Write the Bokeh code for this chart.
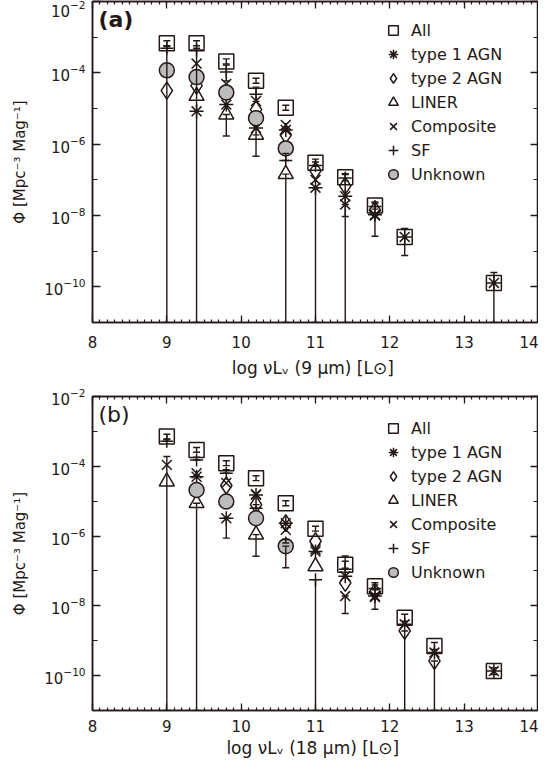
import numpy as np
from bokeh.plotting import figure
from bokeh.models import (ColumnDataSource, Whisker, TeeHead, FixedTicker, LogAxis,
                          LinearAxis, Legend, LegendItem, Label, Range1d,
                          CustomJSTickFormatter)
from bokeh.layouts import column
from bokeh.embed import file_html
from bokeh.resources import INLINE

INK = "#231815"
GRAY = "#bcbcbc"
FONT = "DejaVu Sans"

CLASSES = ["All", "type 1 AGN", "type 2 AGN", "LINER", "Composite", "SF", "Unknown"]

# ---------------- panel (a): 9 micron, log10(phi) values ----------------
A_ALL_X = [9.0, 9.4, 9.8, 10.2, 10.6, 11.0, 11.4, 11.8, 12.2, 13.4]
A_ALL_Y = [-3.17, -3.17, -3.68, -4.22, -4.98, -6.52, -6.93, -7.72, -8.60, -9.89]
A_ALL_LO = [0.07, 0.07, 0.07, 0.07, 0.07, 0.10, 0.10, 0.10, 0.52, 9.0]
A_ALL_HI = [0.07, 0.07, 0.07, 0.07, 0.07, 0.10, 0.10, 0.10, 0.24, 0.29]

A_T1_X = [9.4, 9.8, 10.2, 10.6, 11.0, 11.4, 11.8, 12.2, 13.4]
A_T1_Y = [-5.08, -4.89, -5.55, -5.60, -7.22, -7.46, -7.98, -8.60, -9.89]
A_T1_LO = [0, 0, 0, 0, 9.0, 0, 0.60, 0, 0]
A_T1_HI = [0, 0, 0, 0, 0, 0, 0, 0, 0]

A_T2_X = [9.0, 9.4, 9.8, 10.2, 10.6, 11.0, 11.4, 11.8]
A_T2_Y = [-4.50, -4.36, -4.55, -5.03, -5.74, -6.74, -7.17, -7.85]

A_LI_X = [9.4, 9.8, 10.2, 10.6]
A_LI_Y = [-4.65, -5.17, -5.74, -6.84]
A_LI_LO = [0, 0.60, 0.60, 9.0]
A_LI_HI = [0, 0, 0, 0]

A_CO_X = [9.0, 9.4, 9.8, 10.2, 10.6, 11.0, 11.4, 11.8]
A_CO_Y = [-3.93, -3.74, -4.31, -4.79, -5.46, -7.00, -7.69, -8.00]
A_CO_LO = [0, 0, 0, 0, 0, 0, 9.0, 0]
A_CO_HI = [0, 0, 0, 0, 0, 0, 0, 0]

A_SF_X = [9.0, 9.4, 9.8, 10.2, 10.6, 11.0, 11.4, 11.8]
A_SF_Y = [-3.31, -3.36, -3.98, -4.60, -6.46, -6.60, -6.95, -7.75]
A_SF_LO = [9.0, 9.0, 0.25, 0.20, 0, 0, 1.08, 0]
A_SF_HI = [0.05, 0.05, 0.20, 0.20, 0.20, 0.10, 0.10, 0.10]

A_UN_X = [9.0, 9.4, 9.8, 10.2, 10.6]
A_UN_Y = [-3.93, -4.12, -4.55, -5.27, -6.12]

# ---------------- panel (b): 18 micron ----------------
B_ALL_X = [9.0, 9.4, 9.8, 10.2, 10.6, 11.0, 11.4, 11.8, 12.2, 12.6, 13.4]
B_ALL_Y = [-3.15, -3.53, -3.91, -4.34, -5.06, -5.79, -6.82, -7.44, -8.34, -9.15, -9.87]
B_ALL_LO = [0.07, 0.07, 0.07, 0.07, 0.07, 0.07, 0.10, 0.10, 0.10, 0.10, 0.10]
B_ALL_HI = [0.07, 0.07, 0.07, 0.07, 0.07, 0.07, 0.10, 0.10, 0.10, 0.10, 0.10]

B_T1_X = [9.4, 9.8, 10.2, 10.6, 11.0, 11.4, 11.8, 12.2, 12.6, 13.4]
B_T1_Y = [-4.30, -5.49, -4.82, -5.63, -6.44, -7.15, -7.72, -8.53, -9.34, -9.87]
B_T1_LO = [0, 0.57, 0, 0, 0, 0, 0.38, 0, 0, 0]
B_T1_HI = [0, 0, 0, 0, 0, 0, 0, 0, 0, 0]

B_T2_X = [9.8, 10.2, 10.6, 11.0, 11.4, 11.8, 12.2, 12.6]
B_T2_Y = [-4.55, -5.10, -5.63, -6.15, -7.34, -7.60, -8.72, -9.58]
B_T2_LO = [0, 0, 0, 0, 0, 0, 9.0, 9.0]
B_T2_HI = [0, 0, 0, 0, 0, 0, 0, 0]

B_LI_X = [9.0, 9.4, 10.2, 11.0]
B_LI_Y = [-4.44, -5.06, -5.96, -6.87]
B_LI_LO = [0, 9.0, 0.62, 0]
B_LI_HI = [0, 0, 0, 0]

B_CO_X = [9.0, 9.4, 9.8, 10.2, 10.6, 11.0, 11.4, 11.8]
B_CO_Y = [-3.96, -4.20, -4.48, -4.80, -5.82, -6.38, -7.72, -7.75]
B_CO_LO = [9.0, 0, 0, 0, 0, 0, 0.50, 0]
B_CO_HI = [0.24, 0, 0, 0, 0, 0, 0, 0]

B_SF_X = [9.0, 9.4, 9.8, 10.2, 10.6, 11.0, 11.4, 11.8]
B_SF_Y = [-3.28, -3.82, -4.20, -5.20, -6.20, -7.25, -6.95, -7.50]
B_SF_LO = [0, 0, 0, 0, 0, 9.0, 0, 0]
B_SF_HI = [0.05, 0.08, 0.10, 0.10, 0.10, 0, 0.38, 0.10]

B_UN_X = [9.4, 9.8, 10.2, 10.6]
B_UN_Y = [-4.68, -5.01, -5.49, -6.29]
B_UN_LO = [0, 0, 0, 0.62]
B_UN_HI = [0, 0, 0, 0]

X_TICKS = [8, 9, 10, 11, 12, 13, 14]
Y_TICK_EXP = [-10, -8, -6, -4, -2]
Y_MINOR_EXP = [-11, -9, -7, -5, -3]

STYLE = {
    "All": dict(marker="square", size=15, fill_color=None),
    "type 1 AGN": dict(marker="asterisk", size=14, fill_color=None),
    "type 2 AGN": dict(marker="diamond", size=17, fill_color=None),
    "LINER": dict(marker="triangle", size=15, fill_color=None),
    "Composite": dict(marker="x", size=14, fill_color=None),
    "SF": dict(marker="cross", size=13, fill_color=None),
    "Unknown": dict(marker="circle", size=15, fill_color=GRAY),
}

Y_LO, Y_HI = -11, -2


def add_err(p, xs, ys, lo, hi):
    bx, bl, bu = [], [], []
    for x, y, l, h in zip(xs, ys, lo, hi):
        if l or h:
            bx.append(x)
            bl.append(10 ** max(y - l, Y_LO))
            bu.append(10 ** (y + h))
    if not bx:
        return
    src = ColumnDataSource(dict(base=bx, lower=bl, upper=bu))
    w = Whisker(source=src, base="base", lower="lower", upper="upper",
                dimension="height", line_color=INK, line_width=1.4, level="glyph",
                upper_head=TeeHead(size=7, line_color=INK, line_width=1.4),
                lower_head=TeeHead(size=7, line_color=INK, line_width=1.4))
    p.add_layout(w)


def make_panel(series, errors, xlabel, tag, tag_bold, height, border_top,
               border_bottom, legend_loc, tick_standoff, label_standoff):
    p = figure(width=538, height=height, x_range=Range1d(8, 14),
               y_range=Range1d(10.0 ** Y_LO, 10.0 ** Y_HI), y_axis_type="log",
               output_backend="svg", toolbar_location=None,
               min_border_left=92, min_border_right=0,
               min_border_top=border_top, min_border_bottom=border_bottom)
    p.xgrid.visible = False
    p.ygrid.visible = False
    p.outline_line_color = INK
    p.outline_line_width = 1.5
    p.background_fill_color = "white"
    p.border_fill_color = "white"

    xminor = [round(v, 1) for v in np.arange(8.1, 14.0, 0.1)]
    xt = FixedTicker(ticks=X_TICKS, minor_ticks=xminor)
    yt = FixedTicker(ticks=[10.0 ** e for e in Y_TICK_EXP],
                     minor_ticks=[10.0 ** e for e in Y_MINOR_EXP])

    def style_axis(ax, labels=True):
        ax.axis_line_color = INK
        ax.axis_line_width = 1.5
        ax.major_tick_line_color = INK
        ax.minor_tick_line_color = INK
        ax.major_tick_line_width = 1.3
        ax.minor_tick_line_width = 1.2
        ax.major_tick_out = 0
        ax.minor_tick_out = 0
        ax.major_label_text_font = FONT
        ax.major_label_text_font_size = "15px"
        ax.major_label_text_color = INK
        ax.axis_label_text_font = FONT
        ax.axis_label_text_font_style = "normal"
        ax.axis_label_text_font_size = "15px"
        ax.axis_label_text_color = INK
        if not labels:
            ax.formatter = CustomJSTickFormatter(code="return ''")
            ax.major_label_standoff = 0
            ax.major_label_text_font_size = "0px"

    xa = p.xaxis[0]
    xa.ticker = xt
    style_axis(xa)
    xa.major_tick_in = 7
    xa.minor_tick_in = 3
    xa.major_label_standoff = tick_standoff
    xa.axis_label = xlabel
    xa.axis_label_standoff = label_standoff
    xa.axis_label_text_font_size = "17px"

    ya = p.yaxis[0]
    ya.ticker = yt
    style_axis(ya)
    ya.major_tick_in = 8
    ya.minor_tick_in = 5
    ya.major_label_standoff = 7
    ya.axis_label = "Φ [Mpc⁻³ Mag⁻¹]"
    ya.axis_label_standoff = 12

    top = LinearAxis(ticker=xt)
    style_axis(top, labels=False)
    top.major_tick_in = 7
    top.minor_tick_in = 3
    p.add_layout(top, "above")

    right = LogAxis(ticker=yt)
    style_axis(right, labels=False)
    right.major_tick_in = 8
    right.minor_tick_in = 5
    p.add_layout(right, "right")

    items = []
    for name in CLASSES:
        xs, ys = series[name]
        st = STYLE[name]
        src = ColumnDataSource(dict(x=xs, y=[10.0 ** v for v in ys]))
        r = p.scatter("x", "y", source=src, marker=st["marker"], size=st["size"],
                      line_color=INK, line_width=1.5, fill_color=st["fill_color"])
        items.append(LegendItem(label=name, renderers=[r]))

    for name in CLASSES:
        if name in errors:
            xs, ys = series[name]
            lo, hi = errors[name]
            add_err(p, xs, ys, lo, hi)

    leg = Legend(items=items, location=legend_loc, margin=0, padding=3,
                 glyph_width=24, glyph_height=24, spacing=0, label_standoff=6,
                 label_height=20,
                 label_text_font=FONT, label_text_font_size="16px",
                 label_text_color=INK, border_line_alpha=0,
                 background_fill_alpha=0)
    p.add_layout(leg)

    p.add_layout(Label(x=8.08, y=10.0 ** -2.15, text=tag, text_font=FONT,
                       text_font_size="22px", text_color=INK, text_baseline="top",
                       text_font_style="bold" if tag_bold else "normal"))
    return p


series_a = {
    "All": (A_ALL_X, A_ALL_Y), "type 1 AGN": (A_T1_X, A_T1_Y),
    "type 2 AGN": (A_T2_X, A_T2_Y), "LINER": (A_LI_X, A_LI_Y),
    "Composite": (A_CO_X, A_CO_Y), "SF": (A_SF_X, A_SF_Y), "Unknown": (A_UN_X, A_UN_Y),
}
errors_a = {
    "All": (A_ALL_LO, A_ALL_HI), "type 1 AGN": (A_T1_LO, A_T1_HI),
    "LINER": (A_LI_LO, A_LI_HI), "Composite": (A_CO_LO, A_CO_HI), "SF": (A_SF_LO, A_SF_HI),
}
series_b = {
    "All": (B_ALL_X, B_ALL_Y), "type 1 AGN": (B_T1_X, B_T1_Y),
    "type 2 AGN": (B_T2_X, B_T2_Y), "LINER": (B_LI_X, B_LI_Y),
    "Composite": (B_CO_X, B_CO_Y), "SF": (B_SF_X, B_SF_Y), "Unknown": (B_UN_X, B_UN_Y),
}
errors_b = {
    "All": (B_ALL_LO, B_ALL_HI), "type 1 AGN": (B_T1_LO, B_T1_HI),
    "type 2 AGN": (B_T2_LO, B_T2_HI), "LINER": (B_LI_LO, B_LI_HI),
    "Composite": (B_CO_LO, B_CO_HI), "SF": (B_SF_LO, B_SF_HI), "Unknown": (B_UN_LO, B_UN_HI),
}

pa = make_panel(series_a, errors_a, "log  νLᵥ (9 μm) [L⊙]", "(a)", True,
                386, 1, 64, (286, 133), 13, 7)
pb = make_panel(series_b, errors_b, "log  νLᵥ (18 μm) [L⊙]", "(b)", False,
                374, 10, 42, (286, 123), 9, 3)

layout = column(pa, pb, spacing=0)
open("out.html", "w").write(file_html(layout, INLINE))
